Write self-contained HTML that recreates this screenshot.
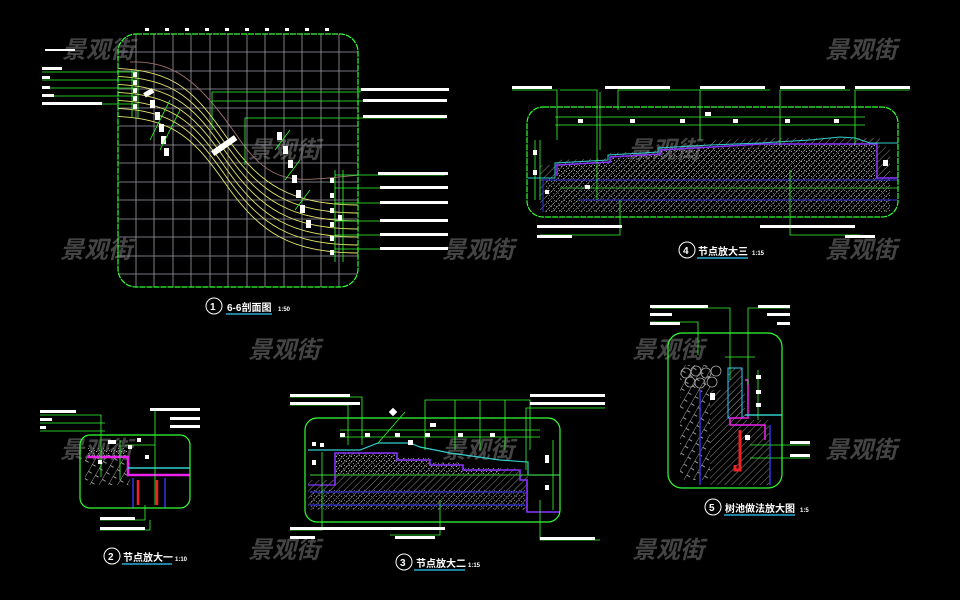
<!DOCTYPE html>
<html><head><meta charset="utf-8"><style>
html,body{margin:0;padding:0;background:#000;width:960px;height:600px;overflow:hidden}
svg{display:block}
.wm{font-family:"Liberation Sans","Noto Sans CJK SC",sans-serif;font-size:24px;font-style:italic;fill:#444;font-weight:bold}
.t{font-family:"Liberation Sans","Noto Sans CJK SC",sans-serif;fill:#fff;font-weight:bold}
</style></head><body>
<svg width="960" height="600" viewBox="0 0 960 600" xmlns="http://www.w3.org/2000/svg">
<defs>
<pattern id="dots" width="5" height="5" patternUnits="userSpaceOnUse">
<rect x="1" y="1" width="1" height="1" fill="#aaa"/><rect x="3" y="3" width="1" height="1" fill="#888"/><rect x="4" y="0" width="1" height="1" fill="#999"/></pattern>
<pattern id="hatch" width="5" height="5" patternUnits="userSpaceOnUse" patternTransform="rotate(45)">
<line x1="0" y1="0" x2="0" y2="5" stroke="#888" stroke-width="1"/></pattern>
<pattern id="herr" width="8" height="8" patternUnits="userSpaceOnUse" patternTransform="rotate(30)">
<line x1="0" y1="0" x2="0" y2="8" stroke="#999" stroke-width="1"/><line x1="0" y1="4" x2="4" y2="4" stroke="#999"/></pattern>
<clipPath id="c1"><rect x="118" y="34" width="240" height="253" rx="18"/></clipPath>
</defs>

<g class="wm">
<text x="62" y="58">景观街</text><text x="825" y="58">景观街</text>
<text x="248" y="158">景观街</text><text x="628" y="158">景观街</text>
<text x="60" y="258">景观街</text><text x="442" y="258">景观街</text><text x="825" y="258">景观街</text>
<text x="248" y="358">景观街</text><text x="632" y="358">景观街</text>
<text x="60" y="458">景观街</text><text x="442" y="458">景观街</text><text x="825" y="458">景观街</text>
<text x="248" y="558">景观街</text><text x="632" y="558">景观街</text>
</g>

<!-- PANEL 1 -->
<g clip-path="url(#c1)" stroke="#9a9aa8" stroke-width="0.8">
<line x1="136" y1="30" x2="136" y2="290"/><line x1="154" y1="30" x2="154" y2="290"/><line x1="173" y1="30" x2="173" y2="290"/><line x1="191" y1="30" x2="191" y2="290"/><line x1="210" y1="30" x2="210" y2="290"/><line x1="228" y1="30" x2="228" y2="290"/><line x1="247" y1="30" x2="247" y2="290"/><line x1="265" y1="30" x2="265" y2="290"/><line x1="284" y1="30" x2="284" y2="290"/><line x1="302" y1="30" x2="302" y2="290"/><line x1="321" y1="30" x2="321" y2="290"/><line x1="339" y1="30" x2="339" y2="290"/>
<line x1="110" y1="52" x2="360" y2="52"/><line x1="110" y1="71" x2="360" y2="71"/><line x1="110" y1="89" x2="360" y2="89"/><line x1="110" y1="108" x2="360" y2="108"/><line x1="110" y1="126" x2="360" y2="126"/><line x1="110" y1="145" x2="360" y2="145"/><line x1="110" y1="163" x2="360" y2="163"/><line x1="110" y1="182" x2="360" y2="182"/><line x1="110" y1="200" x2="360" y2="200"/><line x1="110" y1="219" x2="360" y2="219"/><line x1="110" y1="237" x2="360" y2="237"/><line x1="110" y1="256" x2="360" y2="256"/><line x1="110" y1="274" x2="360" y2="274"/>
</g>
<g clip-path="url(#c1)" fill="none" stroke="#e8e870" stroke-width="0.9">
<path id="cv" d="M100,68 C170,68 190,85 225,135 S290,205 360,205"/>
<use href="#cv" y="8"/><use href="#cv" y="16"/><use href="#cv" y="24"/><use href="#cv" y="32"/><use href="#cv" y="40"/><use href="#cv" y="48"/>
<path d="M130,62 C180,60 205,90 240,140 S300,180 360,175" stroke="#a07070"/>
</g>
<rect x="118" y="34" width="240" height="253" rx="18" fill="none" stroke="#3f3" stroke-width="1.2" stroke-dasharray="6,1"/>
<g fill="#fff">
<rect x="145" y="28" width="4" height="3"/><rect x="165" y="28" width="4" height="3"/><rect x="185" y="28" width="4" height="3"/><rect x="205" y="28" width="4" height="3"/><rect x="225" y="28" width="4" height="3"/><rect x="245" y="28" width="4" height="3"/><rect x="265" y="28" width="4" height="3"/><rect x="285" y="28" width="4" height="3"/><rect x="305" y="28" width="4" height="3"/><rect x="325" y="28" width="4" height="3"/>
<rect x="133" y="72" width="4" height="5"/><rect x="133" y="80" width="4" height="5"/><rect x="133" y="88" width="4" height="5"/><rect x="133" y="96" width="4" height="5"/><rect x="133" y="104" width="4" height="5"/>
<g transform="rotate(-30 150 95)"><rect x="145" y="90" width="10" height="5"/></g>
<rect x="150" y="100" width="5" height="8"/><rect x="155" y="112" width="5" height="8"/><rect x="159" y="124" width="5" height="8"/><rect x="161" y="136" width="5" height="8"/><rect x="164" y="148" width="5" height="8"/>
<g transform="rotate(-35 225 145)"><rect x="210" y="142" width="28" height="6"/></g>
<rect x="277" y="132" width="5" height="8"/><rect x="283" y="146" width="5" height="8"/><rect x="288" y="160" width="5" height="8"/><rect x="292" y="175" width="5" height="8"/><rect x="296" y="190" width="5" height="8"/><rect x="300" y="205" width="5" height="8"/><rect x="306" y="220" width="5" height="8"/>
<rect x="330" y="178" width="4" height="5"/><rect x="330" y="193" width="4" height="5"/><rect x="330" y="208" width="4" height="5"/><rect x="330" y="222" width="4" height="5"/><rect x="330" y="236" width="4" height="5"/><rect x="330" y="250" width="4" height="5"/><rect x="338" y="215" width="4" height="6"/>
</g>
<g stroke="#3f3" stroke-width="0.8" fill="none">
<line x1="132" y1="70" x2="132" y2="118"/><line x1="138" y1="70" x2="138" y2="118"/>
<line x1="42" y1="72" x2="135" y2="72"/><line x1="42" y1="80" x2="135" y2="80"/><line x1="42" y1="88" x2="135" y2="88"/><line x1="42" y1="96" x2="135" y2="96"/><line x1="42" y1="104" x2="135" y2="104"/>
<polyline points="212,130 212,92 360,92 360,88"/><line x1="212" y1="101" x2="445" y2="101"/><polyline points="245,165 245,118 445,118"/>
<line x1="343" y1="170" x2="343" y2="262"/><line x1="335" y1="170" x2="335" y2="262"/>
<line x1="335" y1="175" x2="445" y2="175"/><line x1="335" y1="188" x2="445" y2="188"/><line x1="335" y1="203" x2="445" y2="203"/><line x1="335" y1="221" x2="445" y2="221"/><line x1="335" y1="235" x2="445" y2="235"/><line x1="335" y1="249" x2="445" y2="249"/>
<line x1="150" y1="140" x2="170" y2="100"/><line x1="160" y1="150" x2="180" y2="110"/><line x1="275" y1="150" x2="290" y2="130"/><line x1="285" y1="180" x2="300" y2="160"/><line x1="295" y1="210" x2="310" y2="190"/>
</g>
<g fill="#fff">
<rect x="45" y="49" width="30" height="2"/><rect x="42" y="67" width="20" height="3"/><rect x="42" y="76" width="8" height="3"/><rect x="42" y="86" width="8" height="3"/><rect x="42" y="94" width="12" height="3"/><rect x="42" y="102" width="60" height="3"/>
<rect x="361" y="88" width="88" height="3"/><rect x="363" y="99" width="84" height="3"/><rect x="363" y="115" width="84" height="3"/>
<rect x="378" y="172" width="70" height="3"/><rect x="380" y="186" width="68" height="3"/><rect x="380" y="201" width="68" height="3"/><rect x="380" y="219" width="68" height="3"/><rect x="380" y="233" width="68" height="3"/><rect x="380" y="247" width="68" height="3"/>
</g>
<circle cx="214" cy="306" r="8" fill="none" stroke="#fff" stroke-width="1"/>
<text class="t" x="210" y="310" font-size="10">1</text>
<text class="t" x="227" y="311" font-size="10">6-6剖面图</text><text class="t" x="278" y="311" font-size="6">1:50</text>
<line x1="226" y1="314" x2="272" y2="314" stroke="#3cf" stroke-width="1.2"/>

<!-- PANEL 4 -->
<path d="M540,199 L540,165 L557,165 L557,160 L610,158 L610,153 L660,150 L660,146 L712,143 L712,140 L765,138 L880,138 L880,147 L890,147 L890,212 L540,212Z" fill="url(#hatch)"/>
<path d="M557,175 L557,165 L610,162 L610,157 L660,154 L660,150 L712,147 L762,147 L762,145 L877,145 L877,180 L557,180Z" fill="url(#dots)"/>
<rect x="545" y="180" width="345" height="33" fill="url(#dots)" opacity="0.8"/>
<path d="M557,176 L557,165 L610,162 L610,157 L660,154 L660,150 L712,147 L762,144 L877,144 L877,178 L898,178" fill="none" stroke="#83f" stroke-width="1.5"/>
<g fill="none" stroke-width="1">
<path d="M528,178 L555,178 L555,163 L608,160 L608,155 L658,152 L658,148 L710,145 L760,143 L810,140 L840,137 L855,138 L870,143 L898,143" stroke="#3cc"/>
<line x1="543" y1="180" x2="898" y2="180" stroke="#33d"/><line x1="580" y1="200" x2="898" y2="200" stroke="#33d"/>
<line x1="543" y1="178" x2="543" y2="212" stroke="#33d"/>
<line x1="560" y1="188" x2="898" y2="188" stroke="#3a3"/>
</g>
<rect x="527" y="107" width="371" height="110" rx="16" fill="none" stroke="#3f3" stroke-width="1.2" stroke-dasharray="6,1"/>
<g stroke="#3f3" stroke-width="0.8" fill="none">
<line x1="555" y1="117" x2="865" y2="117"/><line x1="555" y1="125" x2="865" y2="125"/>
<polyline points="557,140 557,90 512,90"/><polyline points="597,200 597,90 560,90"/><polyline points="618,110 618,90 700,90"/><polyline points="600,150 600,92"/>
<polyline points="700,140 700,90 770,90"/><polyline points="780,145 780,90 850,90"/><polyline points="855,145 855,90 910,90"/>
<polyline points="620,200 620,235 540,235"/><polyline points="790,170 790,235 860,235"/>
<line x1="540" y1="140" x2="540" y2="200"/><line x1="535" y1="140" x2="535" y2="200"/>
</g>
<g fill="#fff">
<rect x="512" y="86" width="40" height="3"/><rect x="605" y="86" width="65" height="3"/><rect x="700" y="86" width="65" height="3"/><rect x="780" y="86" width="65" height="3"/><rect x="855" y="86" width="55" height="3"/>
<rect x="578" y="119" width="5" height="4"/><rect x="630" y="119" width="5" height="4"/><rect x="680" y="119" width="5" height="4"/><rect x="733" y="119" width="5" height="4"/><rect x="785" y="119" width="5" height="4"/><rect x="834" y="119" width="5" height="4"/><rect x="705" y="112" width="6" height="4"/>
<rect x="533" y="150" width="4" height="5"/><rect x="533" y="170" width="4" height="5"/><rect x="545" y="190" width="4" height="4"/><rect x="883" y="160" width="5" height="6"/><rect x="585" y="185" width="5" height="4"/>
<rect x="537" y="225" width="85" height="3"/><rect x="537" y="235" width="35" height="3"/><rect x="760" y="225" width="95" height="3"/><rect x="845" y="235" width="30" height="3"/>
</g>
<circle cx="687" cy="250" r="8" fill="none" stroke="#fff"/><text class="t" x="683" y="254" font-size="10">4</text>
<text class="t" x="698" y="255" font-size="10">节点放大三</text><text class="t" x="752" y="255" font-size="6">1:15</text>
<line x1="697" y1="258" x2="748" y2="258" stroke="#3cf" stroke-width="1.2"/>

<!-- PANEL 5 -->
<rect x="680" y="365" width="30" height="115" fill="url(#herr)"/>
<path d="M710,390 L745,390 L745,485 L710,485Z" fill="url(#hatch)"/>
<path d="M745,420 L770,420 L770,485 L745,485Z" fill="url(#hatch)"/>
<g fill="none" stroke="#aaa" stroke-width="0.8">
<circle cx="686" cy="373" r="5"/><circle cx="696" cy="371" r="5"/><circle cx="706" cy="373" r="5"/><circle cx="716" cy="371" r="5"/><circle cx="690" cy="382" r="5"/><circle cx="700" cy="383" r="5"/><circle cx="712" cy="382" r="5"/></g>
<rect x="728" y="368" width="14" height="50" fill="url(#hatch)" stroke="#3cf"/>
<g fill="none" stroke-width="1.5">
<polyline points="745,380 748,380 748,418 730,418 730,425 765,425 765,440" stroke="#e2e"/>
<polyline points="740,430 740,470 735,470 735,465" stroke="#e22" stroke-width="3"/>
<line x1="700" y1="390" x2="700" y2="485" stroke="#33d"/><line x1="770" y1="425" x2="770" y2="485" stroke="#33d"/>
<line x1="745" y1="415" x2="782" y2="415" stroke="#3cc"/>
</g>
<rect x="668" y="333" width="114" height="155" rx="14" fill="none" stroke="#3f3" stroke-width="1.2"/>
<g stroke="#3f3" stroke-width="0.8" fill="none">
<polyline points="730,380 730,308 652,308"/><polyline points="748,385 748,308 790,308"/><polyline points="698,355 698,322 650,322"/>
<line x1="725" y1="357" x2="755" y2="357"/><line x1="758" y1="370" x2="758" y2="420"/><line x1="750" y1="445" x2="810" y2="445"/><line x1="750" y1="458" x2="810" y2="458"/>
</g>
<g fill="#fff">
<rect x="650" y="305" width="58" height="3"/><rect x="650" y="313" width="22" height="3"/><rect x="650" y="322" width="30" height="3"/>
<rect x="758" y="305" width="32" height="3"/><rect x="767" y="313" width="23" height="3"/><rect x="777" y="322" width="13" height="3"/>
<rect x="710" y="393" width="5" height="7"/><rect x="756" y="375" width="5" height="4"/><rect x="756" y="390" width="5" height="4"/><rect x="756" y="403" width="5" height="4"/><rect x="745" y="435" width="5" height="5"/>
<rect x="790" y="441" width="20" height="3"/><rect x="790" y="454" width="20" height="3"/>
</g>
<circle cx="713" cy="507" r="8" fill="none" stroke="#fff"/><text class="t" x="709" y="511" font-size="10">5</text>
<text class="t" x="725" y="512" font-size="10">树池做法放大图</text><text class="t" x="800" y="512" font-size="6">1:5</text>
<line x1="724" y1="515" x2="795" y2="515" stroke="#3cf" stroke-width="1.2"/>

<!-- PANEL 2 -->
<rect x="85" y="455" width="45" height="30" fill="url(#herr)"/>
<rect x="88" y="448" width="40" height="8" fill="url(#dots)"/>
<g fill="none" stroke-width="1.5">
<polyline points="88,457 128,457 128,475 190,475" stroke="#e2e" stroke-width="2.5"/>
<line x1="138" y1="480" x2="138" y2="505" stroke="#e22" stroke-width="2.5"/><line x1="157" y1="480" x2="157" y2="505" stroke="#e22" stroke-width="2.5"/>
<line x1="133" y1="478" x2="133" y2="508" stroke="#33d"/><line x1="165" y1="478" x2="165" y2="508" stroke="#33d"/>
<line x1="128" y1="468" x2="190" y2="468" stroke="#3cc"/>
</g>
<rect x="80" y="435" width="110" height="73" rx="10" fill="none" stroke="#3f3" stroke-width="1.2"/>
<g stroke="#3f3" stroke-width="0.8" fill="none">
<polyline points="40,415 101,415 101,477"/><line x1="40" y1="423" x2="105" y2="423"/><line x1="40" y1="431" x2="105" y2="431"/>
<polyline points="155,505 155,410 200,410"/><polyline points="150,520 150,530 100,530"/><polyline points="145,505 145,520 100,520"/>
<line x1="120" y1="440" x2="120" y2="480"/><line x1="125" y1="445" x2="155" y2="445"/>
</g>
<g fill="#fff">
<rect x="40" y="410" width="36" height="3"/><rect x="40" y="418" width="12" height="3"/><rect x="40" y="426" width="6" height="3"/>
<rect x="150" y="408" width="50" height="3"/><rect x="170" y="417" width="30" height="3"/><rect x="170" y="425" width="30" height="3"/>
<rect x="108" y="440" width="8" height="4"/><rect x="137" y="438" width="4" height="4"/><rect x="98" y="460" width="4" height="4"/><rect x="128" y="445" width="4" height="4"/><rect x="145" y="455" width="4" height="4"/>
<rect x="100" y="517" width="35" height="3"/><rect x="100" y="527" width="45" height="3"/>
</g>
<circle cx="112" cy="556" r="8" fill="none" stroke="#fff"/><text class="t" x="108" y="560" font-size="10">2</text>
<text class="t" x="123" y="561" font-size="10">节点放大一</text><text class="t" x="175" y="561" font-size="6">1:10</text>
<line x1="122" y1="564" x2="172" y2="564" stroke="#3cf" stroke-width="1.2"/>

<!-- PANEL 3 -->
<path d="M308,480 L335,480 L335,453 L397,453 L397,458 L430,458 L430,462 L460,462 L460,468 L520,468 L520,475 L528,475 L528,510 L308,510Z" fill="url(#hatch)"/>
<path d="M335,475 L335,453 L397,453 L397,458 L430,458 L430,462 L460,462 L460,468 L500,468 L500,475Z" fill="url(#dots)"/>
<rect x="310" y="490" width="215" height="20" fill="url(#dots)" opacity="0.7"/>
<g fill="none" stroke-width="1.2">
<path d="M335,485 L335,453 L397,453 L397,460 L430,460 L430,465 L463,465 L463,470 L520,470 L520,480 L527,480 L527,512 L560,512" stroke="#83f" stroke-width="1.6"/>
<line x1="308" y1="485" x2="335" y2="485" stroke="#83f"/>
<path d="M308,450 L360,450 L378,443 L410,443 L420,447 L450,453 L500,460 L528,462 L528,475 L560,475" stroke="#3cc"/>
<line x1="310" y1="492" x2="525" y2="492" stroke="#33d"/><line x1="310" y1="505" x2="525" y2="505" stroke="#33d"/>
<line x1="310" y1="475" x2="560" y2="475" stroke="#3a3"/>
</g>
<rect x="305" y="418" width="255" height="104" rx="12" fill="none" stroke="#3f3" stroke-width="1.2"/>
<g stroke="#3f3" stroke-width="0.8" fill="none">
<line x1="340" y1="430" x2="540" y2="430"/><line x1="340" y1="437" x2="540" y2="437"/>
<polyline points="362,445 362,397 290,397"/><polyline points="348,445 348,405 290,405"/>
<polyline points="425,450 425,400 530,400 530,450"/><line x1="455" y1="400" x2="455" y2="450"/><line x1="480" y1="400" x2="480" y2="450"/><line x1="505" y1="400" x2="505" y2="450"/>
<polyline points="526,470 526,408 605,408"/><line x1="378" y1="443" x2="405" y2="412"/>
<polyline points="322,452 322,530 290,530"/><polyline points="440,500 440,535 390,535"/><polyline points="540,500 540,540 600,540"/>
<line x1="553" y1="440" x2="553" y2="510"/>
</g>
<g fill="#fff">
<rect x="290" y="394" width="60" height="3"/><rect x="290" y="402" width="70" height="3"/>
<rect x="530" y="394" width="75" height="3"/><rect x="530" y="402" width="75" height="3"/>
<rect x="340" y="433" width="5" height="4"/><rect x="365" y="433" width="5" height="4"/><rect x="395" y="433" width="5" height="4"/><rect x="425" y="433" width="5" height="4"/><rect x="458" y="433" width="5" height="4"/><rect x="490" y="433" width="5" height="4"/><rect x="430" y="423" width="6" height="4"/>
<rect x="312" y="442" width="4" height="4"/><rect x="320" y="443" width="4" height="4"/><rect x="312" y="460" width="4" height="5"/><rect x="545" y="455" width="4" height="8"/><rect x="545" y="485" width="4" height="5"/><rect x="408" y="440" width="5" height="5"/>
<rect x="290" y="527" width="155" height="3"/><rect x="290" y="536" width="25" height="3"/><rect x="395" y="536" width="40" height="3"/><rect x="540" y="537" width="55" height="3"/>
<g transform="rotate(45 393 412)"><rect x="390" y="409" width="6" height="6"/></g>
</g>
<circle cx="404" cy="562" r="8" fill="none" stroke="#fff"/><text class="t" x="400" y="566" font-size="10">3</text>
<text class="t" x="416" y="567" font-size="10">节点放大二</text><text class="t" x="468" y="567" font-size="6">1:15</text>
<line x1="414" y1="570" x2="465" y2="570" stroke="#3cf" stroke-width="1.2"/>
</svg>
</body></html>
